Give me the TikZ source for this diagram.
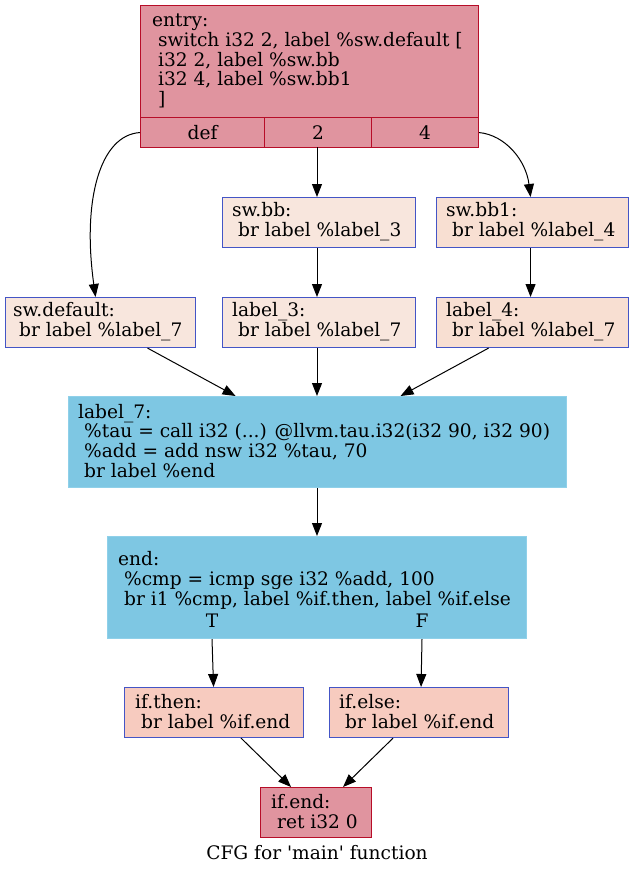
\documentclass[tikz,border=0pt]{standalone}
\usepackage{fontspec}
\setmainfont{DejaVu Serif}[Ligatures=TeXOff]
\usetikzlibrary{arrows.meta}
\definecolor{hotfill}{HTML}{E0949F}
\definecolor{hotline}{HTML}{B70D28}
\definecolor{palefill}{HTML}{F8E6DD}
\definecolor{pale2fill}{HTML}{F8DFD2}
\definecolor{warmfill}{HTML}{F7CBBF}
\definecolor{bluefill}{HTML}{7EC7E3}
\definecolor{blueline}{HTML}{8FD0E9}
\definecolor{coolline}{HTML}{4455C6}
\newcommand{\ind}{\hspace*{0.32em}}
\tikzset{
  x=1pt, y=-1pt,
  every node/.style={font=\fontsize{18.6}{19.9}\selectfont},
  blk/.style={draw, line width=1.1pt, anchor=north west, inner xsep=0pt, inner ysep=0pt, align=left},
  hotblk/.style={blk, fill=hotfill, draw=hotline},
  paleblk/.style={blk, fill=palefill, draw=coolline},
  pale2blk/.style={blk, fill=pale2fill, draw=coolline},
  warmblk/.style={blk, fill=warmfill, draw=coolline},
  blueblk/.style={blk, fill=bluefill, draw=blueline},
  cell/.style={draw=hotline, fill=hotfill, line width=1.1pt, anchor=north west, inner sep=0pt, minimum height=30pt},
  txt/.style={anchor=west, align=left, inner sep=0pt},
  edge/.style={draw, line width=1pt, -{Triangle[length=13pt,width=10pt]}},
}
\begin{document}
\begin{tikzpicture}
\useasboundingbox (0,0) rectangle (635,875);
% entry record
\node[hotblk, minimum width=338pt, minimum height=112pt] (entry) at (140,5) {};
\node[txt] (entrytxt) at (152,61) {entry:\\\ind switch i32 2, label \%sw.default [\\\ind i32 2, label \%sw.bb\\\ind i32 4, label \%sw.bb1\\\ind ]};
\node[cell, minimum width=124pt] (def) at (140,117) {def};
\node[cell, minimum width=107pt] (two) at (264,117) {2};
\node[cell, minimum width=107pt] (four) at (371,117) {4};
\coordinate (mid) at (317,147);
% row 2
\node[paleblk, minimum width=193pt, minimum height=50pt] (swbb) at (222,197) {};
\node[txt] at (232,222) {sw.bb:\\\ind br label \%label\_3};
\node[pale2blk, minimum width=192pt, minimum height=50pt] (swbbone) at (436,197) {};
\node[txt] at (446,222) {sw.bb1:\\\ind br label \%label\_4};
% row 3
\node[paleblk, minimum width=190pt, minimum height=50pt] (swdef) at (5,297) {};
\node[txt] at (13,322) {sw.default:\\\ind br label \%label\_7};
\node[paleblk, minimum width=193pt, minimum height=50pt] (lthree) at (222,297) {};
\node[txt] at (232,322) {label\_3:\\\ind br label \%label\_7};
\node[pale2blk, minimum width=192pt, minimum height=50pt] (lfour) at (436,297) {};
\node[txt] at (446,322) {label\_4:\\\ind br label \%label\_7};
% label_7
\node[blueblk, minimum width=498pt, minimum height=91pt] (lseven) at (68,396) {};
\node[txt] at (78,441) {label\_7:\\\ind \%tau = call i32 (...) @llvm.tau.i32(i32 90, i32 90)\\\ind \%add = add nsw i32 \%tau, 70\\\ind br label \%end};
% end
\node[blueblk, minimum width=419pt, minimum height=102pt] (endb) at (107,536) {};
\node[txt] at (118,580) {end:\\\ind \%cmp = icmp sge i32 \%add, 100\\\ind br i1 \%cmp, label \%if.then, label \%if.else};
\node[inner sep=0pt] (tlab) at (212,621) {T};
\node[inner sep=0pt] (flab) at (422,621) {F};
% if.then / if.else
\node[warmblk, minimum width=179pt, minimum height=50pt] (ifthen) at (124,687) {};
\node[txt] at (135,712) {if.then:\\\ind br label \%if.end};
\node[warmblk, minimum width=179pt, minimum height=50pt] (ifelse) at (329,687) {};
\node[txt] at (339,712) {if.else:\\\ind br label \%if.end};
% if.end
\node[hotblk, minimum width=111pt, minimum height=50pt] (ifend) at (260,787) {};
\node[txt] at (271,812) {if.end:\\\ind ret i32 0};
% caption
\node (cap) at (317,853) {CFG for 'main' function};
% edges
\draw[edge] (def.west) .. controls (100,135) and (82,200) .. ([xshift=-5pt]swdef.north);
\draw[edge] (mid) -- (mid |- swbb.north);
\draw[edge] (four.east) .. controls (505,135) and (526,160) .. ([xshift=-2pt]swbbone.north);
\draw[edge] (mid |- swbb.south) -- (mid |- lthree.north);
\draw[edge] ([xshift=-2pt]swbbone.south) -- ([xshift=-2pt]lfour.north);
\draw[edge] ([xshift=47pt]swdef.south) -- ([xshift=-82pt]lseven.north);
\draw[edge] (mid |- lthree.south) -- (mid |- lseven.north);
\draw[edge] ([xshift=-44pt]lfour.south) -- ([xshift=83pt]lseven.north);
\draw[edge] (mid |- lseven.south) -- (mid |- endb.north);
\draw[edge] (endb.south -| tlab) -- ([xshift=-0.5pt]ifthen.north);
\draw[edge] (endb.south -| flab) -- ([xshift=2pt]ifelse.north);
\draw[edge] ([xshift=27pt]ifthen.south) -- ([xshift=-25pt]ifend.north);
\draw[edge] ([xshift=-26pt]ifelse.south) -- ([xshift=27pt]ifend.north);
\end{tikzpicture}
\end{document}
